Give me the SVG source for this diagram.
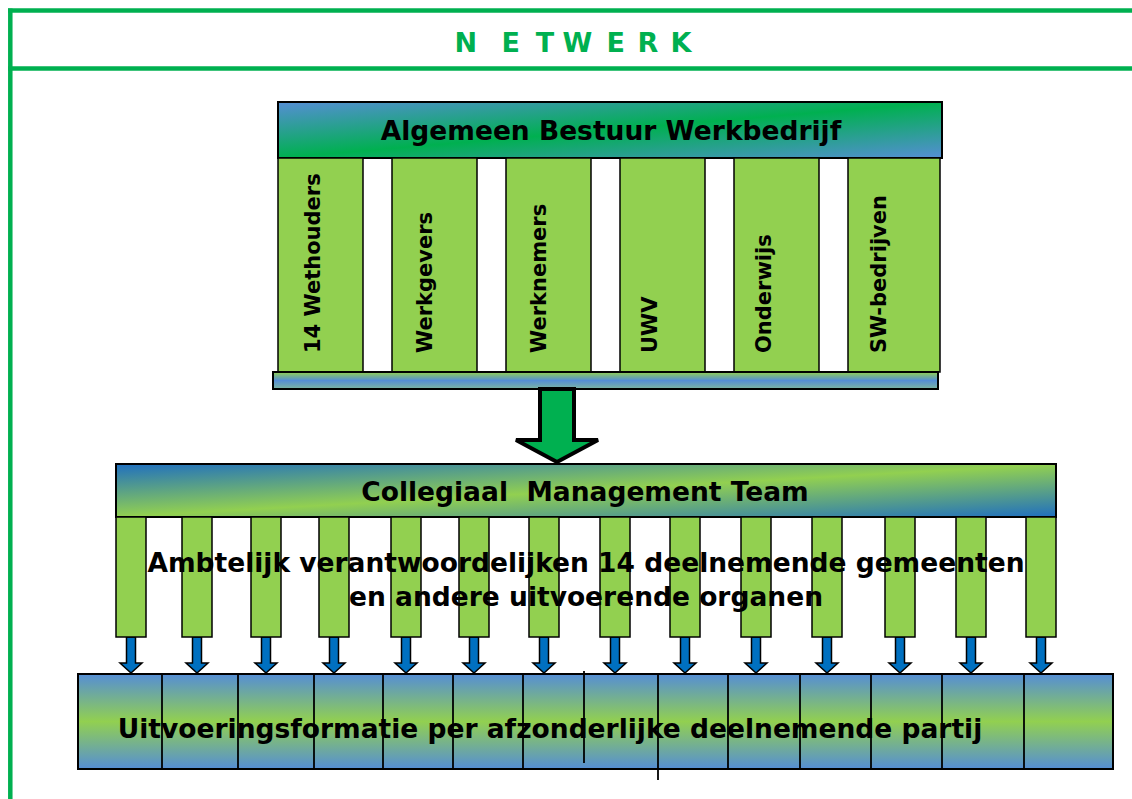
<svg xmlns="http://www.w3.org/2000/svg" width="1132" height="799" viewBox="0 0 1132 799">
<defs>
<linearGradient id="gTop" x1="0" y1="0" x2="1" y2="1">
<stop offset="0" stop-color="#558ed5"/><stop offset="0.5" stop-color="#00b050"/><stop offset="1" stop-color="#558ed5"/>
</linearGradient>
<linearGradient id="gCmt" x1="0" y1="0" x2="1" y2="1">
<stop offset="0" stop-color="#1f6fc0"/><stop offset="0.5" stop-color="#92d050"/><stop offset="1" stop-color="#1f6fc0"/>
</linearGradient>
<linearGradient id="gBar" x1="0" y1="0" x2="0" y2="1">
<stop offset="0" stop-color="#92d050"/><stop offset="0.5" stop-color="#558ed5"/><stop offset="1" stop-color="#7db6a0"/>
</linearGradient>
<linearGradient id="gBot" x1="0" y1="0" x2="0" y2="1">
<stop offset="0" stop-color="#558ed5"/><stop offset="0.5" stop-color="#92d050"/><stop offset="1" stop-color="#558ed5"/>
</linearGradient>
<marker id="m" markerWidth="1" markerHeight="1"/>
</defs>
<style>
.frame{stroke:#00b050;stroke-width:4.5;fill:none}
.box{stroke:#000;stroke-width:2}
.col{fill:#92d050;stroke:#000;stroke-width:1.5}
.pil{fill:#92d050;stroke:#000;stroke-width:1.5}
.arr{fill:#0070c0;stroke:#000;stroke-width:1.5}
.div{stroke:#000;stroke-width:1.8}
.t{font-family:"DejaVu Sans",Verdana,sans-serif;font-weight:bold;fill:#000}
.big{font-size:26.5px;text-anchor:middle}
.vt{font-size:21px}
.title{font-family:"DejaVu Sans",Verdana,sans-serif;font-weight:bold;font-size:27px;fill:#00b050}
</style>

<g id="frame">
<line class="frame" x1="8" y1="10.5" x2="1132" y2="10.5"/>
<line class="frame" x1="10.3" y1="8.5" x2="10.3" y2="799"/>
<line class="frame" x1="8" y1="68.5" x2="1132" y2="68.5"/>
<text class="title" x="454.6 470 501.6 520 535.7 550 562.6 590 606.6 625 637.6 655 670.6" y="52" xml:space="preserve">N E T W E R K</text>
</g>

<g id="algemeen-bestuur">
<rect class="box" x="278" y="102" width="664" height="56" fill="url(#gTop)"/>
<text class="t big" x="611" y="140">Algemeen Bestuur Werkbedrijf</text>
</g>

<g id="col-wethouders">
<rect class="col" x="278" y="158" width="85" height="214"/>
<text class="t vt" transform="translate(320,353) rotate(-90)">14 Wethouders</text>
</g>
<g id="col-werkgevers">
<rect class="col" x="392" y="158" width="85" height="214"/>
<text class="t vt" transform="translate(432,353) rotate(-90)">Werkgevers</text>
</g>
<g id="col-werknemers">
<rect class="col" x="506" y="158" width="85" height="214"/>
<text class="t vt" transform="translate(546,353) rotate(-90)">Werknemers</text>
</g>
<g id="col-uwv">
<rect class="col" x="620" y="158" width="85" height="214"/>
<text class="t vt" transform="translate(657,353) rotate(-90)">UWV</text>
</g>
<g id="col-onderwijs">
<rect class="col" x="734" y="158" width="85" height="214"/>
<text class="t vt" transform="translate(771,353) rotate(-90)">Onderwijs</text>
</g>
<g id="col-sw">
<rect class="col" x="848" y="158" width="92" height="214"/>
<text class="t vt" transform="translate(886,353) rotate(-90)">SW-bedrijven</text>
</g>

<g id="bar">
<rect class="box" x="273" y="372" width="665" height="17" fill="url(#gBar)"/>
</g>

<g id="connectors">
<path d="M540,389 L574,389 L574,440 L598,440 L557,462 L516,440 L540,440 Z" fill="#00b050" stroke="#000" stroke-width="4" stroke-linejoin="miter"/>
<g id="small-arrows">
<path class="arr" d="M126.5,637 L135.5,637 L135.5,663 L142,663 L131,673 L120,663 L126.5,663 Z"/>
<path class="arr" d="M192.5,637 L201.5,637 L201.5,663 L208,663 L197,673 L186,663 L192.5,663 Z"/>
<path class="arr" d="M261.5,637 L270.5,637 L270.5,663 L277,663 L266,673 L255,663 L261.5,663 Z"/>
<path class="arr" d="M329.5,637 L338.5,637 L338.5,663 L345,663 L334,673 L323,663 L329.5,663 Z"/>
<path class="arr" d="M401.5,637 L410.5,637 L410.5,663 L417,663 L406,673 L395,663 L401.5,663 Z"/>
<path class="arr" d="M469.5,637 L478.5,637 L478.5,663 L485,663 L474,673 L463,663 L469.5,663 Z"/>
<path class="arr" d="M539.5,637 L548.5,637 L548.5,663 L555,663 L544,673 L533,663 L539.5,663 Z"/>
<path class="arr" d="M610.5,637 L619.5,637 L619.5,663 L626,663 L615,673 L604,663 L610.5,663 Z"/>
<path class="arr" d="M680.5,637 L689.5,637 L689.5,663 L696,663 L685,673 L674,663 L680.5,663 Z"/>
<path class="arr" d="M751.5,637 L760.5,637 L760.5,663 L767,663 L756,673 L745,663 L751.5,663 Z"/>
<path class="arr" d="M822.5,637 L831.5,637 L831.5,663 L838,663 L827,673 L816,663 L822.5,663 Z"/>
<path class="arr" d="M895.5,637 L904.5,637 L904.5,663 L911,663 L900,673 L889,663 L895.5,663 Z"/>
<path class="arr" d="M966.5,637 L975.5,637 L975.5,663 L982,663 L971,673 L960,663 L966.5,663 Z"/>
<path class="arr" d="M1036.5,637 L1045.5,637 L1045.5,663 L1052,663 L1041,673 L1030,663 L1036.5,663 Z"/>
</g>
</g>

<g id="cmt">
<rect class="box" x="116" y="464" width="940" height="53" fill="url(#gCmt)"/>
<text class="t big" x="585" y="501" xml:space="preserve">Collegiaal  Management Team</text>
</g>

<g id="ambtelijk">
<rect class="pil" x="116" y="517" width="30" height="120"/>
<rect class="pil" x="182" y="517" width="30" height="120"/>
<rect class="pil" x="251" y="517" width="30" height="120"/>
<rect class="pil" x="319" y="517" width="30" height="120"/>
<rect class="pil" x="391" y="517" width="30" height="120"/>
<rect class="pil" x="459" y="517" width="30" height="120"/>
<rect class="pil" x="529" y="517" width="30" height="120"/>
<rect class="pil" x="600" y="517" width="30" height="120"/>
<rect class="pil" x="670" y="517" width="30" height="120"/>
<rect class="pil" x="741" y="517" width="30" height="120"/>
<rect class="pil" x="812" y="517" width="30" height="120"/>
<rect class="pil" x="885" y="517" width="30" height="120"/>
<rect class="pil" x="956" y="517" width="30" height="120"/>
<rect class="pil" x="1026" y="517" width="30" height="120"/>
<text class="t big" x="586" y="572">Ambtelijk verantwoordelijken 14 deelnemende gemeenten</text>
<text class="t big" x="586" y="606">en andere uitvoerende organen</text>
</g>

<g id="uitvoering">
<rect class="box" x="78" y="674" width="1035" height="95" fill="url(#gBot)"/>
<line class="div" x1="162" y1="674" x2="162" y2="769"/>
<line class="div" x1="238" y1="674" x2="238" y2="769"/>
<line class="div" x1="314" y1="674" x2="314" y2="769"/>
<line class="div" x1="383" y1="674" x2="383" y2="769"/>
<line class="div" x1="453" y1="674" x2="453" y2="769"/>
<line class="div" x1="523" y1="674" x2="523" y2="769"/>
<line class="div" x1="584" y1="671" x2="584" y2="763"/>
<line class="div" x1="658" y1="674" x2="658" y2="780"/>
<line class="div" x1="728" y1="674" x2="728" y2="769"/>
<line class="div" x1="800" y1="674" x2="800" y2="769"/>
<line class="div" x1="871" y1="674" x2="871" y2="769"/>
<line class="div" x1="942" y1="674" x2="942" y2="769"/>
<line class="div" x1="1024" y1="674" x2="1024" y2="769"/>
<text class="t big" x="550" y="738">Uitvoeringsformatie per afzonderlijke deelnemende partij</text>
</g>
</svg>
